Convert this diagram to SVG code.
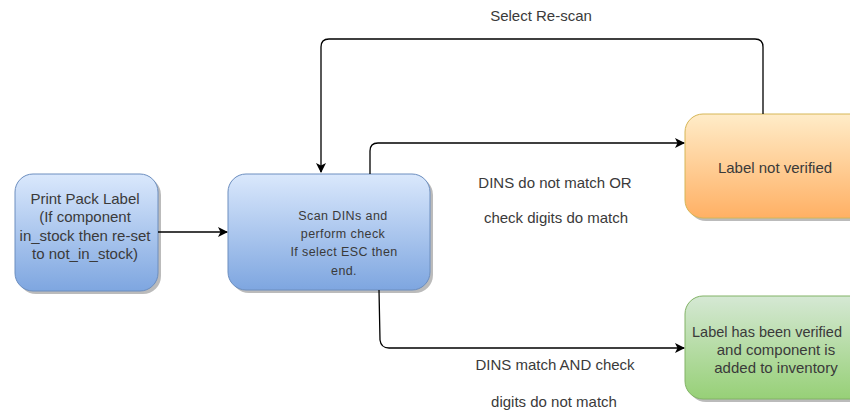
<svg xmlns="http://www.w3.org/2000/svg" width="850" height="411" viewBox="0 0 850 411">
<defs>
<linearGradient id="gBlue" x1="0" y1="0" x2="0" y2="1"><stop offset="0" stop-color="#dae8fc"/><stop offset="1" stop-color="#7ea6e0"/></linearGradient>
<linearGradient id="gOrange" x1="0" y1="0" x2="0" y2="1"><stop offset="0" stop-color="#ffecc8"/><stop offset="1" stop-color="#ffb064"/></linearGradient>
<linearGradient id="gGreen" x1="0" y1="0" x2="0" y2="1"><stop offset="0" stop-color="#d5e8d4"/><stop offset="1" stop-color="#97d077"/></linearGradient>
<marker id="arr" viewBox="0 0 10 10" refX="9" refY="5" markerWidth="10" markerHeight="10" markerUnits="userSpaceOnUse" orient="auto"><path d="M0,0 L10,5 L0,10 L2.5,5 Z" fill="#000"/></marker>
</defs>
<style>
text{font-family:"Liberation Sans",Arial,sans-serif;fill:#3a3a3a;text-anchor:middle}
.shadow{fill:#bbb}
.n1{font-size:15px}
.n2{font-size:12.5px;letter-spacing:0.4px}
.lbl{font-size:15px}
.edge{fill:none;stroke:#000;stroke-width:1.3}
</style>
<rect width="850" height="411" fill="#fff"/>
<g id="print">
<rect class="shadow" x="18" y="177" width="143" height="117" rx="18"/>
<rect x="15" y="174" width="143" height="117" rx="18" fill="url(#gBlue)" stroke="#6c8ebf"/>
<text class="n1" x="85" y="204">Print Pack Label</text>
<text class="n1" x="85" y="222">(If component</text>
<text class="n1" x="85" y="241">in_stock then re-set</text>
<text class="n1" x="85" y="259">to not_in_stock)</text>
</g>
<g id="scan">
<rect class="shadow" x="231" y="177" width="202" height="116" rx="18"/>
<rect x="228" y="174" width="202" height="116" rx="18" fill="url(#gBlue)" stroke="#6c8ebf"/>
<text class="n2" x="343" y="220">Scan DINs and</text>
<text class="n2" x="343" y="238">perform check</text>
<text class="n2" x="344" y="256">If select ESC then</text>
<text class="n2" x="344" y="275">end.</text>
</g>
<g id="notverified">
<rect class="shadow" x="688" y="117" width="190" height="104" rx="18"/>
<rect x="685" y="114" width="190" height="104" rx="18" fill="url(#gOrange)" stroke="#d6b656"/>
<text class="n1" x="775" y="173">Label not verified</text>
</g>
<g id="verified">
<rect class="shadow" x="688" y="299" width="190" height="103" rx="18"/>
<rect x="685" y="296" width="190" height="103" rx="18" fill="url(#gGreen)" stroke="#82b366"/>
<text class="n1" x="767" y="337" style="font-size:14.5px">Label has been verified</text>
<text class="n1" x="776" y="355">and component is</text>
<text class="n1" x="776" y="373">added to inventory</text>
</g>
<g id="connectors">
<path class="edge" d="M158,232 L227,232" marker-end="url(#arr)"/>
<path class="edge" d="M763,114 L763,47 Q763,39 755,39 L329,39 Q321,39 321,47 L321,172" marker-end="url(#arr)"/>
<path class="edge" d="M370,174 L370,151 Q370,143 378,143 L684,143" marker-end="url(#arr)"/>
<path class="edge" d="M379,290 L380,340 Q381,348 389,348 L684,348" marker-end="url(#arr)"/>
<text class="lbl" x="541" y="21">Select Re-scan</text>
<text class="lbl" x="555" y="188">DINS do not match OR</text>
<text class="lbl" x="556" y="223">check digits do match</text>
<text class="lbl" x="555" y="370">DINS match AND check</text>
<text class="lbl" x="554" y="407">digits do not match</text>
</g>
</svg>
